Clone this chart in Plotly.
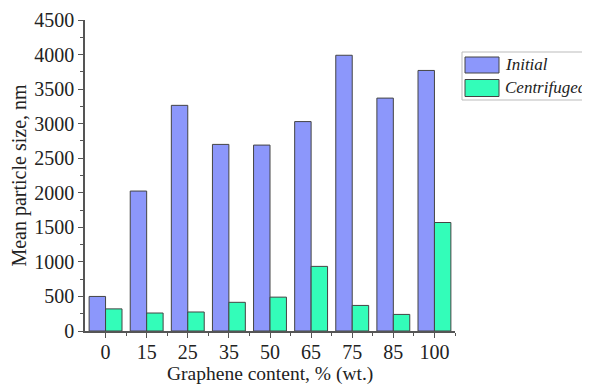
import plotly.graph_objects as go

categories = ["0", "15", "25", "35", "50", "65", "75", "85", "100"]
initial = [500, 2025, 3265, 2700, 2690, 3030, 3990, 3370, 3770]
centrifuged = [320, 260, 275, 415, 490, 935, 370, 240, 1570]
series_names = ["Initial", "Centrifuged"]
series_colors = ["#8c97fb", "#33fdb9"]
x_title = "Graphene content, % (wt.)"
y_title = "Mean particle size, nm"

xpos = list(range(len(categories)))
font_family = "Liberation Serif, Times New Roman, serif"

OFF = 8  # page body margin offset
W, H = 590 - OFF, 385 - OFF
L, R, T, B = 85 - OFF, 135, 20 - OFF, 54
pw, ph = W - L - R, H - T - B


def px(x):  # screen pixel -> paper x
    return (x - OFF - L) / pw


def py(y):  # screen pixel -> paper y
    return 1 - (y - OFF - T) / ph


fig = go.Figure()
for name, vals, col in zip(series_names, [initial, centrifuged], series_colors):
    fig.add_trace(go.Bar(x=xpos, y=vals, name=name, showlegend=False,
                         marker=dict(color=col, line=dict(color="#444444", width=1))))

# custom legend (box, swatches, labels)
shapes = [dict(type="rect", xref="paper", yref="paper",
               x0=px(462), x1=px(600), y0=py(100), y1=py(52),
               line=dict(color="#bbbbbb", width=1), fillcolor="white", layer="above")]
annotations = []
rows = [(57, 73), (79.5, 96.5)]
for (y0, y1), name, col in zip(rows, series_names, series_colors):
    shapes.append(dict(type="rect", xref="paper", yref="paper",
                       x0=px(465), x1=px(499), y0=py(y1), y1=py(y0),
                       line=dict(color="#444444", width=1), fillcolor=col, layer="above"))
    annotations.append(dict(xref="paper", yref="paper", x=px(503), y=py((y0 + y1) / 2 - 1),
                            xanchor="left", yanchor="middle", text=name, showarrow=False,
                            font=dict(family=font_family, size=17, style="italic", color="#222222")))

# x axis title
annotations.append(dict(xref="paper", yref="paper", x=0.5, y=py(374),
                        xanchor="center", yanchor="middle", text=x_title, showarrow=False,
                        font=dict(family=font_family, size=19.5, color="#222222")))

fig.update_layout(
    width=W, height=H,
    margin=dict(l=L, r=R, t=T, b=B),
    paper_bgcolor="white", plot_bgcolor="white",
    barmode="group", bargap=0.2, bargroupgap=0,
    font=dict(family=font_family, size=20, color="#222222"),
    showlegend=False,
    shapes=shapes, annotations=annotations,
    xaxis=dict(
        range=[-0.5, 8.5], tickmode="array", tickvals=xpos, ticktext=categories,
        showline=True, linecolor="#555555", linewidth=1.5,
        ticks="outside", ticklen=5, tickcolor="#555555",
        minor=dict(tickvals=[i + 0.5 for i in xpos], ticks="outside", ticklen=3, tickcolor="#555555"),
        showgrid=False, zeroline=False, automargin=False,
        ticklabelstandoff=-3,
        tickfont=dict(size=20),
    ),
    yaxis=dict(
        range=[0, 4500], dtick=500, tick0=0,
        showline=True, linecolor="#555555", linewidth=1.5,
        ticks="outside", ticklen=5, tickcolor="#555555",
        minor=dict(dtick=250, ticks="outside", ticklen=3, tickcolor="#555555"),
        showgrid=False, zeroline=False, automargin=False,
        title=dict(text=y_title, standoff=4, font=dict(size=20)),
        tickfont=dict(size=20),
    ),
)

fig.write_html("out.html")
